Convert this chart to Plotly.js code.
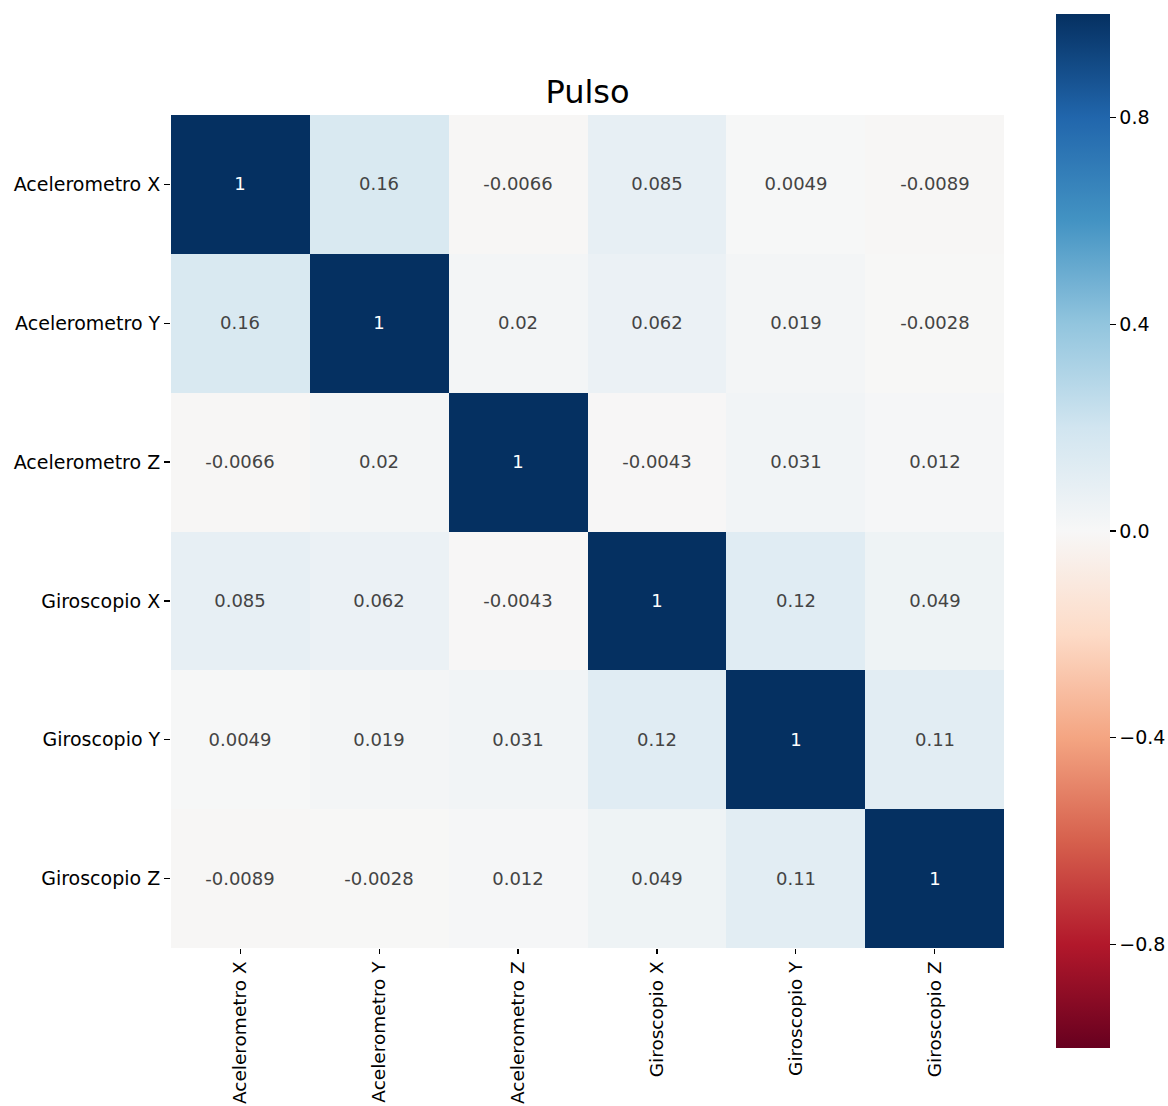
<!DOCTYPE html>
<html>
<head>
<meta charset="utf-8">
<script src="https://cdn.plot.ly/plotly-3.0.1.min.js"></script>
<style>html,body{margin:0;padding:0;background:#fff;}#chart{width:1168px;height:1106px;}</style>
</head>
<body>
<div id="chart"></div>
<script>
var labels = ["Acelerometro X", "Acelerometro Y", "Acelerometro Z", "Giroscopio X", "Giroscopio Y", "Giroscopio Z"];
var rowAccX = [1, 0.16, -0.0066, 0.085, 0.0049, -0.0089];
var rowAccY = [0.16, 1, 0.02, 0.062, 0.019, -0.0028];
var rowAccZ = [-0.0066, 0.02, 1, -0.0043, 0.031, 0.012];
var rowGyrX = [0.085, 0.062, -0.0043, 1, 0.12, 0.049];
var rowGyrY = [0.0049, 0.019, 0.031, 0.12, 1, 0.11];
var rowGyrZ = [-0.0089, -0.0028, 0.012, 0.049, 0.11, 1];
var cbTickVals = [-0.8, -0.4, 0, 0.4, 0.8];
var cbTickText = ["\u22120.8", "\u22120.4", "0.0", "0.4", "0.8"];
var title = "Pulso";

var z = [rowAccX, rowAccY, rowAccZ, rowGyrX, rowGyrY, rowGyrZ];
var text = z.map(function(r){return r.map(function(v){return String(v);});});

var rdbu = ['#67001f','#b2182b','#d6604d','#f4a582','#fddbc7','#f7f7f7','#d1e5f0','#92c5de','#4393c3','#2166ac','#053061'];
var colorscale = rdbu.map(function(c,i){return [i/(rdbu.length-1), c];});

var font = "DejaVu Sans, sans-serif";
var L = 171, R = 1004, T = 115, B = 948;
var W = 1168, H = 1106;

var trace = {
  type: 'heatmap',
  z: z, x: labels, y: labels,
  text: text,
  texttemplate: '%{text}',
  textfont: {family: font, size: 18},
  colorscale: colorscale,
  zmin: -1, zmax: 1,
  xgap: 0, ygap: 0,
  hoverongaps: false,
  colorbar: {
    thickness: 54, thicknessmode: 'pixels',
    len: 1034, lenmode: 'pixels',
    x: (1056 - L) / (R - L), xanchor: 'left',
    y: (B - 531) / (B - T), yanchor: 'middle',
    outlinewidth: 0,
    tickvals: cbTickVals, ticktext: cbTickText,
    ticks: 'outside', ticklen: 6, tickwidth: 1.2, tickcolor: '#000',
    tickfont: {family: font, size: 19, color: '#000'},
    xpad: 0, ypad: 0
  }
};

var layout = {
  width: W, height: H,
  margin: {l: L, r: W - R, t: T, b: H - B, pad: 0, autoexpand: false},
  paper_bgcolor: '#fff', plot_bgcolor: '#fff',
  title: {text: title, font: {family: font, size: 32, color: '#000'}, x: (L + R) / 2 / W, xanchor: 'center', y: 1 - 92 / H, yanchor: 'middle'},
  xaxis: {
    tickangle: -90, ticks: 'outside', ticklen: 5, tickwidth: 1.2, tickcolor: '#000',
    tickfont: {family: font, size: 18.5, color: '#000'}, showgrid: false, zeroline: false, showline: false, automargin: false
  },
  yaxis: {
    autorange: 'reversed', ticks: 'outside', ticklen: 6, tickwidth: 1.2, tickcolor: '#000',
    tickfont: {family: font, size: 19, color: '#000'}, showgrid: false, zeroline: false, showline: false, automargin: false
  },
  font: {family: font}
};

Plotly.newPlot('chart', [trace], layout, {displayModeBar: false, staticPlot: true});
</script>
</body>
</html>
